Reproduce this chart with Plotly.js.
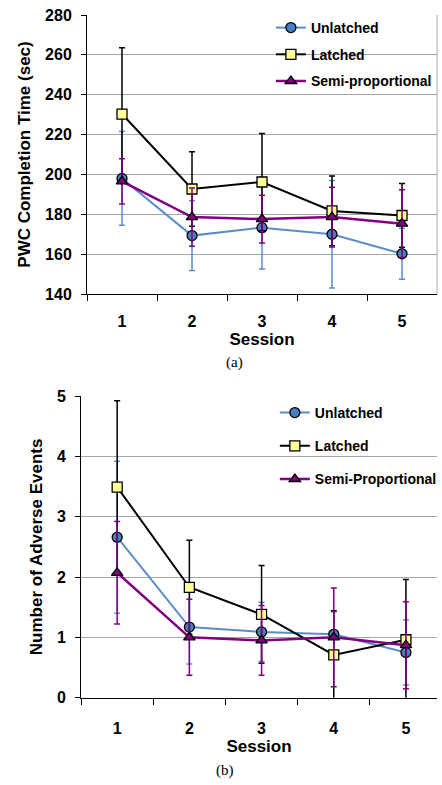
<!DOCTYPE html>
<html>
<head>
<meta charset="utf-8">
<script src="https://cdn.plot.ly/plotly-3.0.1.min.js"></script>
<style>html,body{margin:0;padding:0;background:#fff;overflow:hidden}#chart{width:442px;height:785px}</style>
</head>
<body>
<div id="chart"></div>
<script>
// ---- data ----
const sessions = ['1', '2', '3', '4', '5'];

// (a) PWC completion time (sec)
const timeUnlatched = [198, 169.3, 173.3, 170, 160.2];
const timeUnlatchedErr = [23.5, 17.5, 20.7, 27, 12.8];
const timeLatched = [230.3, 192.7, 196.2, 181.7, 179.4];
const timeLatchedErr = [33.3, 18.7, 24.4, 17.5, 16];
const timeSemi = [196.5, 178.6, 177.6, 178.6, 175.3];
const timeSemiErr = [11.4, 14.6, 12, 15, 17];

// (b) Number of adverse events
const eventsUnlatched = [2.66, 1.17, 1.09, 1.05, 0.75];
const eventsUnlatchedErr = [1.26, 0.61, 0.49, 0.37, 0.54];
const eventsLatched = [3.49, 1.83, 1.38, 0.71, 0.96];
const eventsLatchedErr = [1.43, 0.78, 0.81, 0.73, 1.0];
const eventsSemi = [2.07, 1.0, 0.95, 1.0, 0.87];
const eventsSemiErr = [0.85, 0.63, 0.58, 0.82, 0.72];

const namesA = ['Unlatched', 'Latched', 'Semi-proportional'];
const namesB = ['Unlatched', 'Latched', 'Semi-Proportional'];

// ---- styles ----
const W = 442, H = 785;
const BLUE = '#5b8ec9', BLUEFILL = '#4a7ebb', PURPLE = '#800080', YEL = '#ffff99';
const FONT = 'Liberation Sans, Arial, sans-serif';

function series(y, err, name, kind, xa, ya, leg) {
  const styles = {
    u: {line: BLUE, lw: 2, sym: 'circle', fill: BLUEFILL, size: 10, ec: BLUE},
    l: {line: '#000000', lw: 2, sym: 'square', fill: YEL, size: 10, ec: '#000000'},
    s: {line: PURPLE, lw: 2.5, sym: 'triangle-up', fill: PURPLE, size: 10, ec: PURPLE}
  }[kind];
  return {
    type: 'scatter', mode: 'lines+markers', x: sessions, y: y, name: name,
    xaxis: xa, yaxis: ya, legend: leg, legendgroup: leg + name,
    line: {color: styles.line, width: styles.lw},
    marker: {symbol: styles.sym, size: styles.size, color: styles.fill,
             line: {color: '#000000', width: 1.3}},
    error_y: {type: 'data', array: err, visible: true, color: styles.ec,
              thickness: 1.5, width: 3}
  };
}

const data = [
  series(timeUnlatched, timeUnlatchedErr, namesA[0], 'u', 'x', 'y', 'legend'),
  series(timeLatched, timeLatchedErr, namesA[1], 'l', 'x', 'y', 'legend'),
  series(timeSemi, timeSemiErr, namesA[2], 's', 'x', 'y', 'legend'),
  series(eventsUnlatched, eventsUnlatchedErr, namesB[0], 'u', 'x2', 'y2', 'legend2'),
  series(eventsLatched, eventsLatchedErr, namesB[1], 'l', 'x2', 'y2', 'legend2'),
  series(eventsSemi, eventsSemiErr, namesB[2], 's', 'x2', 'y2', 'legend2')
];

const tickFont = {family: FONT, size: 16, color: '#000', weight: 'bold'};
function xAxis(domLeft, range, anchor, standoff) {
  return {
    type: 'category', domain: [domLeft / W, 1], range: range, anchor: anchor,
    tickson: 'boundaries', ticks: 'outside', ticklen: 6, tickcolor: '#000',
    showline: true, linecolor: '#000', linewidth: 1, showgrid: false,
    tickfont: tickFont, ticklabelstandoff: standoff,
    title: {text: 'Session', font: {family: FONT, size: 17, color: '#000', weight: 'bold'}, standoff: 0}
  };
}
function yAxis(top, bottom, range, dtick, anchor, title) {
  return {
    domain: [1 - bottom / H, 1 - top / H], range: range, dtick: dtick, anchor: anchor,
    ticks: 'outside', ticklen: 5, tickcolor: '#000', showline: true, linecolor: '#000', linewidth: 1,
    showgrid: true, gridcolor: '#a6a6a6', gridwidth: 1, zeroline: false,
    tickfont: tickFont, ticklabelstandoff: 6,
    title: {text: title, font: {family: FONT, size: 17, color: '#000', weight: 'bold'}, standoff: 10}
  };
}

const legFont = {family: FONT, size: 14, color: '#000', weight: 'bold'};
const layout = {
  width: W, height: H, margin: {l: 0, r: 0, t: 0, b: 0},
  paper_bgcolor: '#fff', plot_bgcolor: '#fff',
  font: {family: FONT, color: '#000'},
  xaxis: xAxis(88, [-0.5, 4.5], 'y', 13),
  yaxis: yAxis(15, 294, [140, 280], 20, 'x', 'PWC Completion Time (sec)'),
  xaxis2: xAxis(82, [-0.5, 4.43], 'y2', 16),
  yaxis2: yAxis(396, 697.7, [0, 5], 1, 'x2', 'Number of Adverse Events'),
  legend: {x: 274 / W, y: 1 - 12 / H, xanchor: 'left', yanchor: 'top', bgcolor: 'rgba(0,0,0,0)',
           font: legFont, tracegroupgap: 5.5, traceorder: 'grouped'},
  legend2: {x: 278 / W, y: 1 - 397 / H, xanchor: 'left', yanchor: 'top', bgcolor: 'rgba(0,0,0,0)',
            font: legFont, tracegroupgap: 12, traceorder: 'grouped'},
  shapes: [
    {type: 'line', xref: 'x domain', yref: 'y domain', x0: 1, x1: 1, y0: 0, y1: 1,
     line: {color: '#a6a6a6', width: 1}}
  ],
  annotations: [
    {text: '(a)', xref: 'paper', yref: 'paper', x: 237 / W, y: 1 - 362 / H, showarrow: false,
     xanchor: 'center', yanchor: 'middle',
     font: {family: 'Liberation Serif, Times New Roman, serif', size: 15, color: '#000'}},
    {text: '(b)', xref: 'paper', yref: 'paper', x: 228 / W, y: 1 - 770 / H, showarrow: false,
     xanchor: 'center', yanchor: 'middle',
     font: {family: 'Liberation Serif, Times New Roman, serif', size: 15, color: '#000'}}
  ],
  showlegend: true
};

Plotly.newPlot('chart', data, layout, {staticPlot: true, displayModeBar: false});
</script>
</body>
</html>
